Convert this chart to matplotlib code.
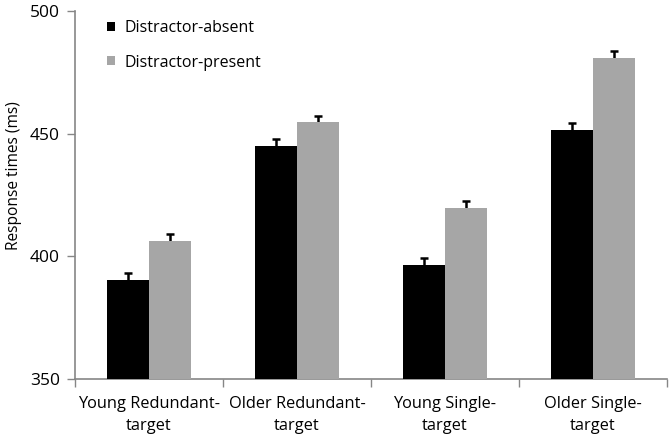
import numpy as np
import matplotlib
matplotlib.use('Agg')
import matplotlib.pyplot as plt

plt.rcParams['font.family'] = ['Open Sans', 'DejaVu Sans']

categories = ['Young Redundant-\ntarget', 'Older Redundant-\ntarget',
              'Young Single-\ntarget', 'Older Single-\ntarget']
absent = [390.4, 445.1, 396.5, 451.5]
absent_err = [2.9, 2.8, 2.7, 3.0]
present = [406.4, 454.6, 419.8, 480.7]
present_err = [2.7, 2.7, 2.8, 3.1]
yticks = [350, 400, 450, 500]

AXIS_COLOR = '#868686'
GRAY = '#a6a6a6'

fig = plt.figure(figsize=(6.72, 4.42), dpi=100)
ax = fig.add_axes([0.1116, 0.1425, 0.881, 0.8325])

x = np.arange(len(categories))
width = 0.284
ax.bar(x - width / 2, absent, width, color='black', label='Distractor-absent', zorder=3)
ax.bar(x + width / 2, present, width, color=GRAY, label='Distractor-present', zorder=3)
# symmetric error bars drawn behind the bars, so only the upper half shows
err_kw = dict(fmt='none', ecolor='black', elinewidth=1.8, capsize=2.8, capthick=1.8, zorder=2)
ax.errorbar(x - width / 2, absent, yerr=absent_err, **err_kw)
ax.errorbar(x + width / 2, present, yerr=present_err, **err_kw)

ax.set_ylim(350, 500)
ax.set_yticks(yticks)
ax.set_xlim(-0.5, len(categories) - 0.5)

# boundary ticks as major, labels on minor ticks
ax.set_xticks(np.arange(len(categories) + 1) - 0.5)
ax.set_xticklabels([])
ax.set_xticks(x, minor=True)
ax.set_xticklabels(categories, minor=True, fontsize=11.8, linespacing=1.55)
ax.tick_params(axis='x', which='minor', length=0, pad=12)
ax.tick_params(axis='x', which='major', length=6, color=AXIS_COLOR, width=1)
ax.tick_params(axis='y', length=6, color=AXIS_COLOR, width=1, labelsize=12.5, pad=5)

for s in ['top', 'right']:
    ax.spines[s].set_visible(False)
for s in ['left', 'bottom']:
    ax.spines[s].set_color(AXIS_COLOR)
    ax.spines[s].set_linewidth(1.2)

ax.set_ylabel('Response times (ms)', fontsize=11.2)
ax.yaxis.set_label_coords(-0.09, 0.552)

ax.legend(loc='upper left', bbox_to_anchor=(0.033, 1.01), frameon=False,
          fontsize=11.5, handlelength=0.5, handleheight=0.5, handletextpad=0.55,
          labelspacing=1.15, borderpad=0.3)

fig.savefig('out.png', dpi=100)
